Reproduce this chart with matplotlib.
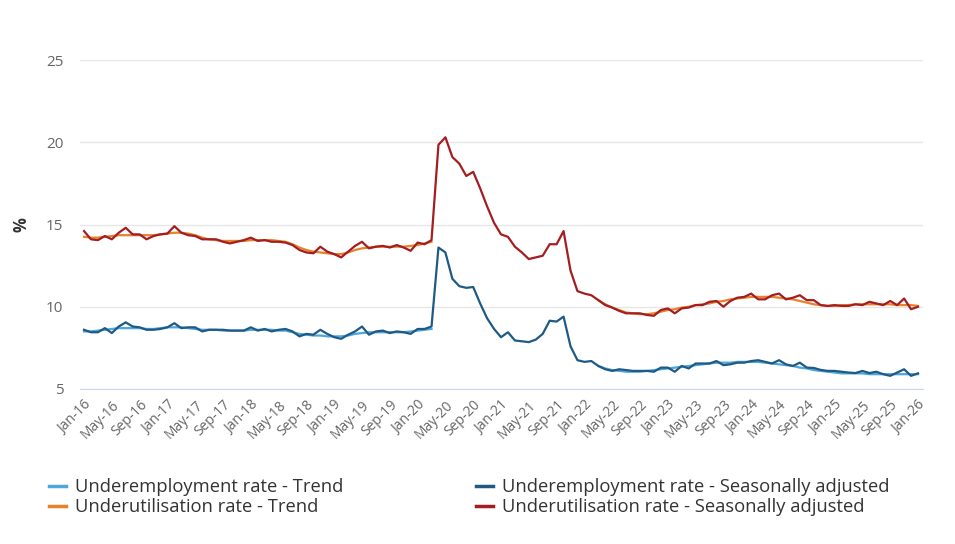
import numpy as np
import matplotlib
matplotlib.use("Agg")
import matplotlib.pyplot as plt
from matplotlib.lines import Line2D

plt.rcParams['font.family'] = ['Open Sans', 'DejaVu Sans']

months = ['Jan', 'Feb', 'Mar', 'Apr', 'May', 'Jun', 'Jul', 'Aug', 'Sep', 'Oct', 'Nov', 'Dec']
dates = [f"{m}-{y:02d}" for y in range(16, 26) for m in months] + ['Jan-26']

underutil_sa = [
    14.6, 14.1, 14.05, 14.3, 14.1, 14.5, 14.8, 14.4, 14.4, 14.1, 14.3, 14.4,
    14.45, 14.9, 14.5, 14.35, 14.3, 14.1, 14.1, 14.1, 13.95, 13.85, 13.95, 14.05,
    14.2, 14.0, 14.05, 13.95, 13.95, 13.9, 13.75, 13.45, 13.3, 13.25, 13.65, 13.35,
    13.2, 13.0, 13.35, 13.7, 13.95, 13.55, 13.65, 13.7, 13.6, 13.75, 13.6, 13.4,
    13.9, 13.8, 14.05, 19.85, 20.3, 19.1, 18.7, 17.95, 18.2, 17.2, 16.1, 15.1,
    14.4, 14.25, 13.65, 13.3, 12.9, 13.0, 13.1, 13.8, 13.8, 14.6, 12.2, 10.95,
    10.8, 10.7, 10.4, 10.1, 9.95, 9.75, 9.6, 9.6, 9.6, 9.5, 9.45, 9.8,
    9.9, 9.6, 9.9, 9.95, 10.1, 10.1, 10.3, 10.35, 10.0, 10.35, 10.55, 10.6,
    10.8, 10.45, 10.45, 10.7, 10.8, 10.45, 10.55, 10.7, 10.4, 10.4, 10.1, 10.05,
    10.1, 10.05, 10.05, 10.15, 10.1, 10.3, 10.2, 10.1, 10.35, 10.1, 10.5, 9.85,
    10.0,
]

underutil_trend = [
    14.25, 14.2, 14.2, 14.25, 14.3, 14.35, 14.35, 14.35, 14.35, 14.35, 14.35, 14.4,
    14.45, 14.5, 14.5, 14.45, 14.35, 14.2, 14.1, 14.05, 14.0, 14.0, 14.0, 14.0,
    14.05, 14.05, 14.05, 14.05, 14.0, 13.95, 13.8, 13.6, 13.45, 13.35, 13.3, 13.25,
    13.2, 13.2, 13.3, 13.45, 13.55, 13.6, 13.65, 13.65, 13.65, 13.65, 13.65, 13.7,
    13.75, 13.85, 13.95, None, None, None, None, None, None, None, None, None,
    None, None, None, None, None, None, None, None, None, None, None, None,
    None, None, 10.4, 10.15, 9.95, 9.8, 9.65, 9.6, 9.55, 9.55, 9.6, 9.7,
    9.8, 9.85, 9.95, 10.0, 10.1, 10.15, 10.2, 10.3, 10.35, 10.45, 10.5, 10.55,
    10.6, 10.6, 10.6, 10.6, 10.55, 10.5, 10.45, 10.35, 10.25, 10.15, 10.1, 10.05,
    10.05, 10.1, 10.1, 10.15, 10.15, 10.15, 10.15, 10.15, 10.15, 10.1, 10.1, 10.1,
    10.05,
]

underemp_sa = [
    8.6, 8.45, 8.45, 8.7, 8.4, 8.8, 9.05, 8.8, 8.75, 8.6, 8.6, 8.65,
    8.75, 9.0, 8.7, 8.75, 8.75, 8.5, 8.6, 8.6, 8.6, 8.55, 8.55, 8.55,
    8.75, 8.55, 8.65, 8.5, 8.6, 8.65, 8.5, 8.2, 8.35, 8.3, 8.6, 8.35,
    8.15, 8.05, 8.3, 8.5, 8.8, 8.3, 8.5, 8.55, 8.4, 8.5, 8.45, 8.35,
    8.65, 8.65, 8.8, 13.6, 13.3, 11.7, 11.25, 11.15, 11.2, 10.2, 9.3, 8.65,
    8.15, 8.45, 7.95, 7.9, 7.85, 8.0, 8.35, 9.15, 9.1, 9.4, 7.6, 6.75,
    6.65, 6.7, 6.4, 6.2, 6.1, 6.2, 6.15, 6.1, 6.1, 6.1, 6.05, 6.3,
    6.3, 6.05, 6.4, 6.25, 6.55, 6.55, 6.55, 6.7, 6.45, 6.5, 6.6, 6.6,
    6.7, 6.75, 6.65, 6.55, 6.75, 6.5, 6.4, 6.6, 6.3, 6.28, 6.16, 6.1,
    6.1, 6.05, 6.0, 5.97, 6.1, 5.97, 6.05, 5.9, 5.8, 6.0, 6.2, 5.8,
    5.95,
]

underemp_trend = [
    8.5, 8.5, 8.55, 8.6, 8.65, 8.7, 8.7, 8.7, 8.7, 8.65, 8.65, 8.7,
    8.75, 8.75, 8.75, 8.7, 8.65, 8.6, 8.6, 8.6, 8.55, 8.55, 8.55, 8.55,
    8.6, 8.6, 8.6, 8.6, 8.55, 8.55, 8.45, 8.35, 8.3, 8.25, 8.25, 8.2,
    8.2, 8.2, 8.25, 8.35, 8.4, 8.45, 8.45, 8.45, 8.45, 8.45, 8.45, 8.5,
    8.55, 8.6, 8.65, None, None, None, None, None, None, None, None, None,
    None, None, None, None, None, None, None, None, None, None, None, None,
    None, None, 6.4, 6.25, 6.15, 6.1, 6.05, 6.05, 6.05, 6.1, 6.15, 6.2,
    6.25, 6.3, 6.35, 6.4, 6.45, 6.5, 6.55, 6.6, 6.6, 6.6, 6.65, 6.65,
    6.65, 6.65, 6.6, 6.55, 6.5, 6.45, 6.4, 6.3, 6.25, 6.15, 6.1, 6.05,
    6.0, 5.95, 5.95, 5.95, 5.95, 5.9, 5.9, 5.9, 5.9, 5.9, 5.9, 5.9,
    5.9,
]

labels = ['Underemployment rate - Trend', 'Underutilisation rate - Trend',
          'Underemployment rate - Seasonally adjusted', 'Underutilisation rate - Seasonally adjusted']
colors = ['#4ea6dc', '#e8822a', '#1f5a85', '#a31d21']

def arr(v):
    return np.array([np.nan if a is None else a for a in v], dtype=float)

x = np.arange(len(dates))

fig = plt.figure(figsize=(9.55, 5.44), dpi=100)
ax = fig.add_axes([80/955, 1-389/544, (923-80)/955, (389-60)/544])

ax.plot(x, arr(underemp_trend), color=colors[0], lw=1.6, solid_joinstyle='round', zorder=2)
ax.plot(x, arr(underutil_trend), color=colors[1], lw=1.6, solid_joinstyle='round', zorder=2)
ax.plot(x, arr(underemp_sa), color=colors[2], lw=1.6, solid_joinstyle='round', zorder=3)
ax.plot(x, arr(underutil_sa), color=colors[3], lw=1.6, solid_joinstyle='round', zorder=3)

ax.set_ylim(5, 25)
ax.set_yticks([5, 10, 15, 20, 25])
ax.set_xlim(-0.58, 120.72)
ax.set_xticks(x[::4])
ax.set_xticklabels(dates[::4], rotation=45, ha='right', rotation_mode='anchor')
ax.grid(axis='y', color='#e6e6e6', lw=1)
ax.set_axisbelow(True)
for s in ['top', 'right', 'left']:
    ax.spines[s].set_visible(False)
ax.spines['bottom'].set_color('#ccd6eb')
ax.tick_params(axis='y', length=0, labelsize=11, labelcolor='#666666', pad=12)
ax.tick_params(axis='x', length=0, labelsize=10, labelcolor='#666666', pad=6)
ax.set_ylabel('%', fontsize=12, color='#333333', fontweight='bold', labelpad=11)

def handles(idx):
    return [Line2D([0], [0], color=colors[i], lw=2.5) for i in idx]

kw = dict(loc='upper left', frameon=False, fontsize=13.2, handlelength=0.95,
          handletextpad=0.45, labelspacing=0.12, borderpad=0, borderaxespad=0,
          labelcolor='#333333')
leg1 = fig.legend(handles([0, 1]), [labels[0], labels[1]],
                  bbox_to_anchor=(49/955, 1-478/544), **kw)
leg2 = fig.legend(handles([2, 3]), [labels[2], labels[3]],
                  bbox_to_anchor=(476/955, 1-478/544), **kw)

fig.savefig('out.png', dpi=100)
